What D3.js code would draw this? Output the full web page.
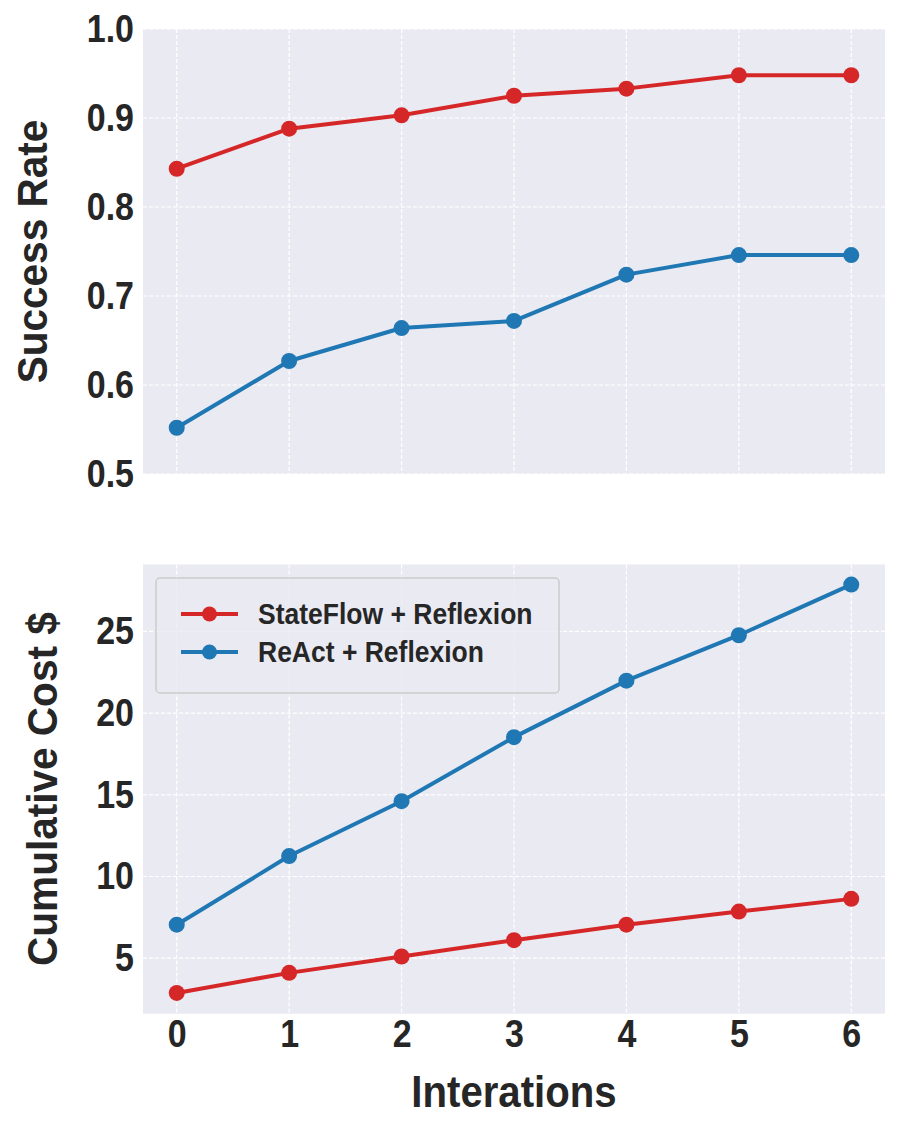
<!DOCTYPE html>
<html>
<head>
<meta charset="utf-8">
<script src="https://cdn.jsdelivr.net/npm/d3@7"></script>
<style>
  body { margin: 0; background: #fff; }
  text { font-family: "Liberation Sans", Arial, sans-serif; font-weight: bold; fill: #262626; }
</style>
</head>
<body>
<div id="chart"></div>
<script>
var iterations = [0, 1, 2, 3, 4, 5, 6];
var successStateFlow = [0.843, 0.888, 0.903, 0.925, 0.933, 0.948, 0.948];
var successReAct = [0.552, 0.627, 0.664, 0.672, 0.724, 0.746, 0.746];
var costStateFlow = [2.87, 4.10, 5.10, 6.10, 7.05, 7.85, 8.63];
var costReAct = [7.05, 11.25, 14.61, 18.53, 21.99, 24.77, 27.87];
var successTicks = [0.5, 0.6, 0.7, 0.8, 0.9, 1.0];
var costTicks = [5, 10, 15, 20, 25];
var seriesNames = ["StateFlow + Reflexion", "ReAct + Reflexion"];
var colors = ["#d62728", "#1f77b4"];

var W = 901, H = 1137;
var left = 143, right = 885;
var stretch = 1.12; // the reference text looks a bit taller than plain Arial

var svg = d3.select("#chart").append("svg")
  .attr("width", W).attr("height", H);

var x = d3.scaleLinear().domain([-0.3, 6.3]).range([left, right]);

function styleTicks(sel) {
  sel.selectAll("text")
    .style("font-size", "34px").attr("fill", "#262626")
    .style("font-family", "Liberation Sans, Arial, sans-serif").style("font-weight", "bold")
    .attr("transform", "scale(1," + stretch + ")");
}

function panel(top, bottom, yDomain, yTicks, fmt, series, ylabel, labelX) {
  var y = d3.scaleLinear().domain(yDomain).range([bottom, top]);
  var g = svg.append("g");

  g.append("rect")
    .attr("x", left).attr("y", top)
    .attr("width", right - left).attr("height", bottom - top)
    .attr("fill", "#eaeaf2");

  // grid
  g.selectAll(".hgrid").data(yTicks).enter().append("line")
    .attr("x1", left).attr("x2", right)
    .attr("y1", function(d) { return y(d); }).attr("y2", function(d) { return y(d); })
    .attr("stroke", "#fff").attr("stroke-width", 1.2).attr("stroke-dasharray", "4,2");
  g.selectAll(".vgrid").data(iterations).enter().append("line")
    .attr("y1", top).attr("y2", bottom)
    .attr("x1", function(d) { return x(d); }).attr("x2", function(d) { return x(d); })
    .attr("stroke", "#fff").attr("stroke-width", 1.2).attr("stroke-dasharray", "4,2");

  var yAxis = d3.axisLeft(y).tickValues(yTicks).tickFormat(fmt).tickSize(0).tickPadding(9);
  var ya = g.append("g").attr("transform", "translate(" + left + ",0)").call(yAxis);
  ya.select(".domain").remove();
  styleTicks(ya);

  g.append("text")
    .attr("transform", "translate(" + labelX + "," + ((top + bottom) / 2) + ") rotate(-90) scale(1.04,1.08)")
    .attr("text-anchor", "middle")
    .style("font-size", "39px")
    .text(ylabel);

  var line = d3.line()
    .x(function(d, i) { return x(iterations[i]); })
    .y(function(d) { return y(d); });

  series.forEach(function(s, k) {
    g.append("path").datum(s)
      .attr("d", line)
      .attr("fill", "none").attr("stroke", colors[k]).attr("stroke-width", 4)
      .attr("stroke-linejoin", "round");
    g.selectAll(".pt" + k).data(s).enter().append("circle")
      .attr("cx", function(d, i) { return x(iterations[i]); })
      .attr("cy", function(d) { return y(d); })
      .attr("r", 8).attr("fill", colors[k]);
  });
  return y;
}

panel(29, 474, [0.5, 1.0], successTicks, d3.format(".1f"),
  [successStateFlow, successReAct], "Success Rate", 47);

panel(564.5, 1013.7, [1.6, 29.1], costTicks, d3.format("d"),
  [costStateFlow, costReAct], "Cumulative Cost $", 57);

// shared x axis under the lower panel
var xAxis = d3.axisBottom(x).tickValues(iterations).tickFormat(d3.format("d")).tickSize(0).tickPadding(6);
var xa = svg.append("g").attr("transform", "translate(0,1013.7)").call(xAxis);
xa.select(".domain").remove();
styleTicks(xa);

svg.append("text")
  .attr("transform", "translate(" + ((left + right) / 2) + ",1107) scale(1.03," + stretch + ")")
  .attr("text-anchor", "middle")
  .style("font-size", "39px")
  .text("Interations");

// legend
var lg = svg.append("g");
lg.append("rect")
  .attr("x", 156).attr("y", 578).attr("width", 403).attr("height", 115)
  .attr("rx", 4)
  .attr("fill", "#eaeaf2").attr("fill-opacity", 0.8)
  .attr("stroke", "#cccccc").attr("stroke-width", 1.5);
seriesNames.forEach(function(name, k) {
  var yy = 614 + k * 38;
  lg.append("line").attr("x1", 181).attr("x2", 238).attr("y1", yy).attr("y2", yy)
    .attr("stroke", colors[k]).attr("stroke-width", 4);
  lg.append("circle").attr("cx", 209.5).attr("cy", yy).attr("r", 7.5).attr("fill", colors[k]);
  lg.append("text")
    .attr("transform", "translate(258," + (yy + 9.5) + ") scale(1," + stretch + ")")
    .style("font-size", "26.5px").text(name);
});
</script>
</body>
</html>
